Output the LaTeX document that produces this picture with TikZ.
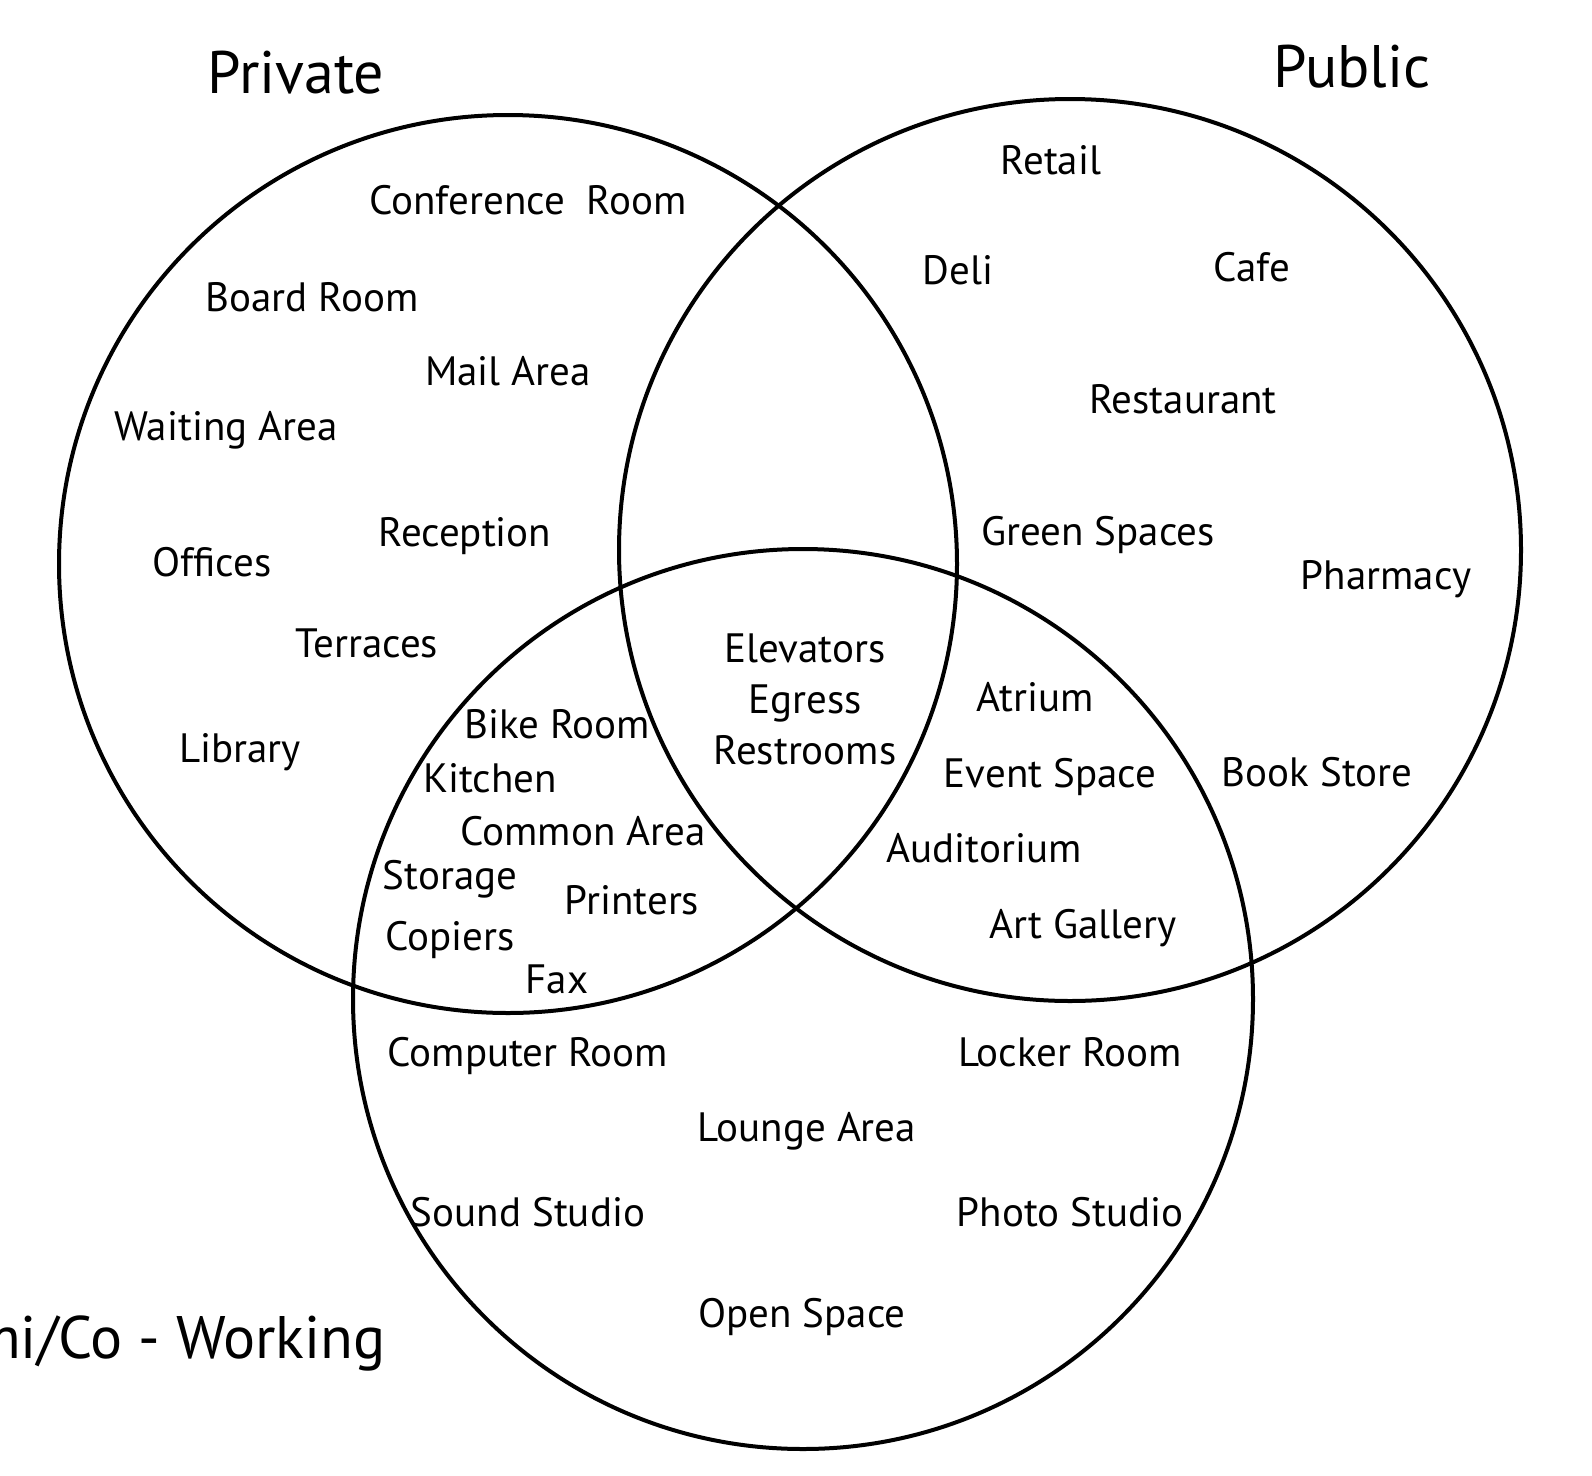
\documentclass[tikz,border=0pt]{standalone}
\usepackage{fontspec}
\setmainfont{PT Sans}
\begin{document}
\begin{tikzpicture}[x=1pt,y=-1pt,line join=round,line cap=round,
	room/.style={font=\fontsize{41}{48}\selectfont,anchor=base,inner sep=0pt},
	zone/.style={font=\fontsize{60}{70}\selectfont,anchor=base,inner sep=0pt},
	ring/.style={line width=4pt}]
		\useasboundingbox (0,0) rectangle (1592,1475);
		\draw[ring] (508,564) circle (449);
		\draw[ring] (1070,550) circle (451);
		\draw[ring] (803,999) circle (450);
		% titles
		\node[zone] (private) at (296,93) {Private};
		\node[zone] (public) at (1352,87) {Public};
		\node[zone,anchor=base east] (cowork) at (386,1358) {mi/Co - Working};
		% private
		\node[room] (conf) at (528,214) {Conference\ \ Room};
		\node[room] (board) at (312,311) {Board Room};
		\node[room] (mail) at (508,385) {Mail Area};
		\node[room] (wait) at (226,440) {Waiting Area};
		\node[room] (recep) at (465,546) {Reception};
		\node[room] (office) at (212,576) {Offices};
		\node[room] (terr) at (367,657) {Terraces};
		\node[room] (lib) at (240,762) {Library};
		% public
		\node[room] (retail) at (1051,174) {Retail};
		\node[room] (deli) at (958,284) {Deli};
		\node[room] (cafe) at (1252,281) {Cafe};
		\node[room] (rest) at (1183,413) {Restaurant};
		\node[room] (green) at (1098,545) {Green Spaces};
		\node[room] (pharm) at (1386,589) {Pharmacy};
		\node[room] (book) at (1317,786) {Book Store};
		% all three
		\node[room] (elev) at (805,662) {Elevators};
		\node[room] (egress) at (805,713) {Egress};
		\node[room] (wc) at (805,764) {Restrooms};
		% public and co-working
		\node[room] (atrium) at (1035,711) {Atrium};
		\node[room] (event) at (1050,787) {Event Space};
		\node[room] (audi) at (984,862) {Auditorium};
		\node[room] (art) at (1083,938) {Art Gallery};
		% private and co-working
		\node[room] (bike) at (557,738) {Bike Room};
		\node[room] (kitchen) at (490,792) {Kitchen};
		\node[room] (common) at (583,845) {Common Area};
		\node[room] (store) at (450,889) {Storage};
		\node[room] (print) at (632,914) {Printers};
		\node[room] (copy) at (450,950) {Copiers};
		\node[room] (fax) at (557,993) {Fax};
		% co-working
		\node[room] (comp) at (528,1066) {Computer Room};
		\node[room] (locker) at (1070,1066) {Locker Room};
		\node[room] (lounge) at (807,1141) {Lounge Area};
		\node[room] (sound) at (528,1226) {Sound Studio};
		\node[room] (photo) at (1070,1226) {Photo Studio};
		\node[room] (open) at (802,1327) {Open Space};
\end{tikzpicture}
\end{document}
